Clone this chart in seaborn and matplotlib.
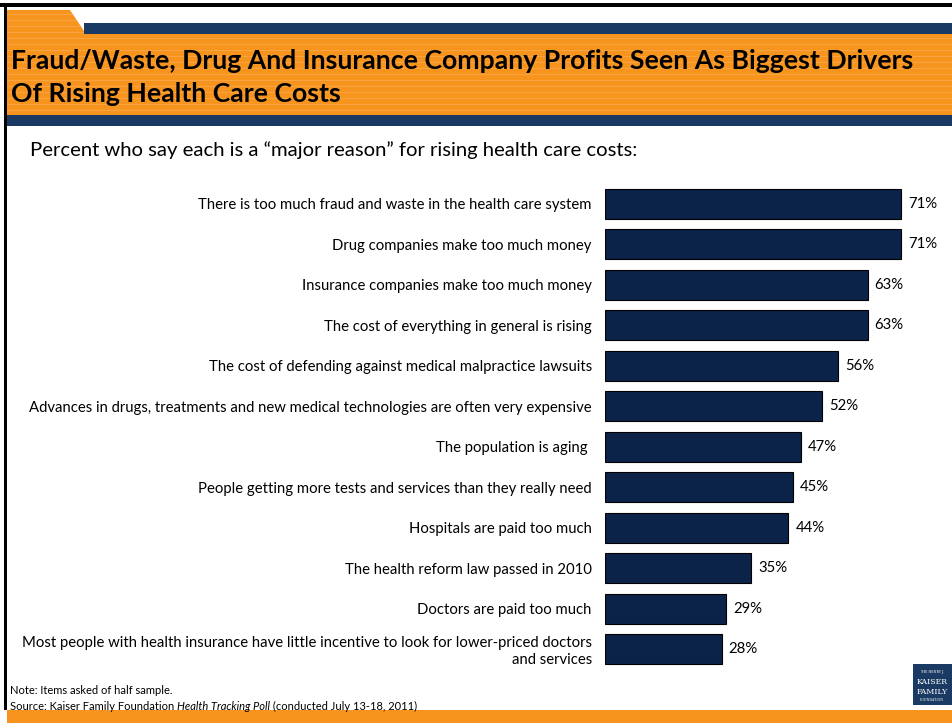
import matplotlib
matplotlib.use("Agg")
import matplotlib.pyplot as plt
from matplotlib.patches import Rectangle, Polygon
import seaborn as sns
import pandas as pd

# ---- data ----
reasons = [
    "There is too much fraud and waste in the health care system",
    "Drug companies make too much money",
    "Insurance companies make too much money",
    "The cost of everything in general is rising",
    "The cost of defending against medical malpractice lawsuits",
    "Advances in drugs, treatments and new medical technologies are often very expensive",
    "The population is aging ",
    "People getting more tests and services than they really need",
    "Hospitals are paid too much",
    "The health reform law passed in 2010",
    "Doctors are paid too much",
    "Most people with health insurance have little incentive to look for lower-priced doctors\nand services",
]
percent_major = [71, 71, 63, 63, 56, 52, 47, 45, 44, 35, 29, 28]

title_lines = [
    "Fraud/Waste, Drug And Insurance Company Profits Seen As Biggest Drivers",
    "Of Rising Health Care Costs",
]
subtitle = "Percent who say each is a \u201cmajor reason\u201d for rising health care costs:"
note_text = "Note: Items asked of half sample."
source_parts = [("Source: Kaiser Family Foundation ", "normal"),
                ("Health Tracking Poll", "italic"),
                (" (conducted July 13-18, 2011)", "normal")]

NAVY_BAR = "#0B2249"
NAVY_BAND = "#1B3A63"
ORANGE = "#F7941D"
ORANGE_LIGHT = "#F9A443"

sns.set_theme(style="white")
plt.rcParams["font.family"] = ["Lato", "DejaVu Sans"]

W, H = 952, 723
fig = plt.figure(figsize=(W / 100, H / 100), dpi=100)
fig.patch.set_facecolor("white")


def fx(px):
    return px / W


def fy(py):
    return 1 - py / H


def rect(x0, y0, x1, y1, color, z=0):
    fig.patches.append(Rectangle((fx(x0), fy(y1)), fx(x1) - fx(x0), fy(y0) - fy(y1),
                                 transform=fig.transFigure, facecolor=color,
                                 edgecolor="none", zorder=z))


# ---- header: orange tab with stripes and navy bands ----
fig.patches.append(Polygon([(fx(7), fy(10)), (fx(70), fy(10)), (fx(86), fy(34)),
                            (fx(W), fy(34)), (fx(W), fy(115)), (fx(7), fy(115))],
                           closed=True, transform=fig.transFigure,
                           facecolor=ORANGE, edgecolor="none", zorder=0))
for ys in range(14, 114, 6):
    x_right = W if ys >= 34 else 70 + (ys - 10) * 16 / 24
    rect(7, ys, x_right, ys + 1.4, ORANGE_LIGHT, z=0.5)
rect(84, 23, W, 34, NAVY_BAND, z=1)
rect(7, 115, W, 126, NAVY_BAND, z=1)

# bottom orange strip
rect(7, 710, W, H, ORANGE, z=1)
# black frame on top and left
rect(0, 3, W, 7, "black", z=2)
rect(4, 3, 7, 710, "black", z=2)

renderer = fig.canvas.get_renderer()


def fit_text(x, y, s, target_w, size0, **kw):
    t = fig.text(fx(x), fy(y), s, fontsize=size0, va="center", ha="left", **kw)
    w = t.get_window_extent(renderer).width
    t.set_fontsize(size0 * target_w / w)
    return t


t1 = fit_text(11, 61, title_lines[0], 907, 16, fontweight="bold", color="black", zorder=3)
fig.text(fx(11), fy(94), title_lines[1], fontsize=t1.get_fontsize(), fontweight="bold",
         color="black", va="center", ha="left", zorder=3)
fit_text(30, 150, subtitle, 606, 12, color="black")

# ---- bar chart ----
df = pd.DataFrame({"reason": reasons, "pct": percent_major})
px_per_pct = (901 - 605) / 71
xmax = 80
row_h = (649 - 204) / 11
top = 204 - row_h / 2
bottom = 649 + row_h / 2
ax = fig.add_axes([fx(605), fy(bottom), fx(605 + xmax * px_per_pct) - fx(605),
                   fy(top) - fy(bottom)])
sns.barplot(data=df, x="pct", y="reason", orient="h", color=NAVY_BAR,
            saturation=1, edgecolor="black", linewidth=0.8, width=0.74, ax=ax)
ax.set_xlim(0, xmax)
ax.set_ylim(len(reasons) - 0.5, -0.5)
ax.set_xlabel("")
ax.set_ylabel("")
ax.set_xticks([])
for sp in ax.spines.values():
    sp.set_visible(False)
ax.set_facecolor("none")
ax.tick_params(axis="y", length=0, pad=9.5)
for lbl in ax.get_yticklabels():
    lbl.set_fontsize(10)
    lbl.set_color("black")
# scale label font so the widest label fits the space left of the bars
widest = ax.get_yticklabels()[5]
w0 = widest.get_window_extent(renderer).width
lbl_size = 10 * 562 / w0
for lbl in ax.get_yticklabels():
    lbl.set_fontsize(lbl_size)
    lbl.set_multialignment("right")
ax.bar_label(ax.containers[0], labels=[f"{v}%" for v in percent_major],
             padding=5, fontsize=lbl_size, color="black")

# ---- footnotes ----
fig.text(fx(10), fy(690), note_text, fontsize=8, va="center", ha="left", color="black")
xpos = 10
for txt, style in source_parts:
    t = fig.text(fx(xpos), fy(706), txt, fontsize=8, style=style, va="center",
                 ha="left", color="black")
    xpos += t.get_window_extent(renderer).width

# ---- logo block ----
rect(913, 664, W, 705, NAVY_BAND, z=2)
fig.text(fx(932), fy(672), "THE HENRY J.", fontsize=2.3, color="white", va="center",
         ha="center", zorder=3, family="DejaVu Serif")
fig.text(fx(932), fy(682), "KAISER", fontsize=5.6, color="white", va="center",
         ha="center", zorder=3, family="DejaVu Serif")
fig.text(fx(932), fy(692), "FAMILY", fontsize=5.6, color="white", va="center",
         ha="center", zorder=3, family="DejaVu Serif")
fig.text(fx(932), fy(700), "FOUNDATION", fontsize=2.3, color="white", va="center",
         ha="center", zorder=3, family="DejaVu Serif")

fig.savefig("out.png", dpi=100, facecolor="white")
